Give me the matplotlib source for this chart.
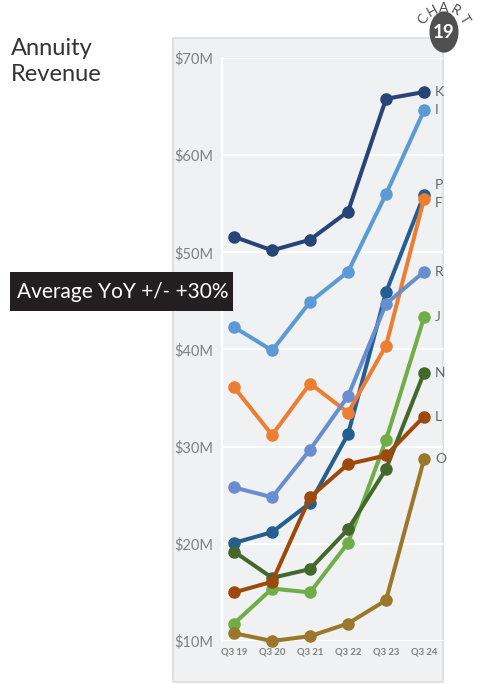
import numpy as np
import matplotlib
matplotlib.use("Agg")
import matplotlib.pyplot as plt
from matplotlib.patches import Rectangle, Circle

plt.rcParams['font.family'] = ['Lato', 'DejaVu Sans']

# data ($M)
quarters = ["Q3 19", "Q3 20", "Q3 21", "Q3 22", "Q3 23", "Q3 24"]
names = ["K", "I", "P", "F", "R", "J", "N", "L", "O"]
K = [51.6, 50.2, 51.3, 54.2, 65.8, 66.5]
I = [42.3, 39.9, 44.9, 48.0, 56.0, 64.6]
P = [20.1, 21.2, 24.2, 31.3, 45.9, 55.9]
F = [36.1, 31.2, 36.5, 33.5, 40.4, 55.5]
R = [25.8, 24.8, 29.7, 35.2, 44.7, 48.0]
J = [11.8, 15.4, 15.0, 20.1, 30.7, 43.3]
N = [19.2, 16.5, 17.4, 21.5, 27.7, 37.6]
L = [15.0, 16.1, 24.8, 28.2, 29.1, 33.1]
O = [10.8, 10.0, 10.5, 11.8, 14.2, 28.7]
series = [K, I, P, F, R, J, N, L, O]
colors = ["#264478", "#5b9bd5", "#255e91", "#ed7d31", "#698ed0",
          "#70ad47", "#43682b", "#9e480e", "#9a772a"]
label_nudge = {"P": 1.0, "F": -0.4}  # keep P/F labels apart
yticks = [10, 20, 30, 40, 50, 60, 70]
subtitle = "Average YoY +/- +30%"

W, H = 480, 684
fig = plt.figure(figsize=(4.8, 6.84), dpi=100)
fig.patch.set_facecolor("white")

# grey panel behind chart
panel = Rectangle((173 / W, 1 - 682 / H), 270 / W, 644 / H, transform=fig.transFigure,
                  facecolor="#f0f1f3", edgecolor="#dcdde0", linewidth=1.2, zorder=-5)
fig.add_artist(panel)

ax = fig.add_axes([222 / W, 1 - 641 / H, 221 / W, 583 / H])
ax.set_facecolor("none")
ax.set_zorder(1)
x = np.arange(len(quarters))
for nm, ys, c in zip(names, series, colors):
    ax.plot(x, ys, color=c, lw=2.9, marker="o", ms=8, clip_on=False, zorder=3)
    ax.annotate(nm, (x[-1], ys[-1] + label_nudge.get(nm, 0)), xytext=(8, 0),
                textcoords="offset points", va="center", ha="left",
                fontsize=10, color="#666666")

ax.set_xlim(-0.32, 5.5)
ax.set_ylim(10, 70)
ax.set_yticks(yticks)
ax.set_yticklabels(["$%dM" % v for v in yticks], fontsize=10.5, color="#808080")
ax.set_xticks(x)
ax.set_xticklabels(quarters, fontsize=6.8, fontweight="bold", color="#808080")
ax.tick_params(length=0, axis="y", pad=6)
ax.tick_params(length=0, axis="x", pad=5)
ax.grid(axis="y", color="white", lw=1.6, zorder=0)
for s in ["top", "right", "bottom"]:
    ax.spines[s].set_visible(False)
ax.spines["left"].set_color("white")
ax.spines["left"].set_linewidth(1.6)

# title
fig.text(11 / W, 1 - 38 / H, "Annuity\nRevenue", fontsize=17, color="#333333",
         ha="left", va="top", linespacing=1.3)

# dark subtitle box
box = Rectangle((10 / W, 1 - 311 / H), 223 / W, 39 / H, transform=fig.transFigure,
                facecolor="#231f20", edgecolor="none", zorder=5)
fig.add_artist(box)
fig.text(17 / W, 1 - 292 / H, subtitle, fontsize=15, color="white",
         ha="left", va="center", zorder=6)

# chart number badge
cx, cy = 444, 32
badge = Circle((cx / W, 1 - cy / H), 14.5 / W, transform=fig.transFigure,
               facecolor="#505050", edgecolor="none", zorder=5)
badge.set_transform(fig.transFigure)
fig.add_artist(badge)
fig.text(cx / W, 1 - (cy + 1) / H, "19", fontsize=13.5, fontweight="bold", color="white",
         ha="center", va="center", zorder=6)
word = "CHART"
angs = np.linspace(148, 32, len(word))
for ch, a in zip(word, angs):
    r = 24
    px = cx + r * np.cos(np.radians(a))
    py = cy - r * np.sin(np.radians(a))
    fig.text(px / W, 1 - py / H, ch, fontsize=10, color="#505050",
             ha="center", va="center", rotation=a - 90, zorder=6)

fig.savefig("out.png", dpi=100)
